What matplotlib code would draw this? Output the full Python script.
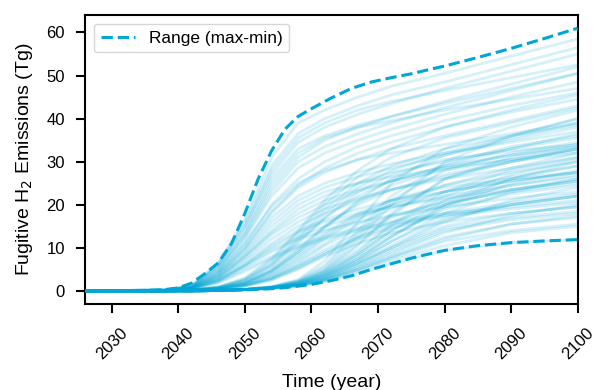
import matplotlib
matplotlib.use("Agg")
import matplotlib.pyplot as plt

plt.rcParams['font.family'] = ['Liberation Sans', 'DejaVu Sans']

# knot years for each scenario trajectory
years = [2026, 2038, 2042, 2046, 2050, 2054, 2058, 2062, 2067, 2072, 2080, 2090, 2100]

# scenario trajectories (Tg)
early = [
    [0, 0.2, 1.2, 6.5, 16.5, 31, 39, 42, 45, 47.5, 50.5, 54.5, 58.5],
    [0, 0.2, 1.0, 5.5, 14, 26, 33, 36, 38.5, 40.5, 43.5, 47, 50.5],
    [0, 0.2, 0.9, 4.5, 12, 22, 28.5, 32, 35, 37.5, 41, 45, 48.5],
    [0, 0.1, 0.8, 4, 10, 18, 24, 27.5, 30.5, 33, 36, 39.5, 43],
    [0, 0.1, 0.7, 3.5, 9, 16, 21, 24, 26.5, 28.5, 31.5, 35, 38],
    [0, 0.1, 0.6, 3, 8, 14, 19, 22, 25, 27.5, 30, 33, 35.5],
    [0, 0.1, 0.6, 2.8, 7, 12, 16, 19, 21.5, 23.5, 26, 28.5, 31],
    [0, 0.1, 0.5, 2.5, 6, 10.5, 14, 16.5, 19, 21, 23, 25.5, 27.5],
    [0, 0.1, 0.5, 2.2, 5.5, 9, 12, 14, 16, 17.5, 19.5, 21.5, 23],
    [0, 0.1, 0.4, 2, 5, 8, 10.5, 12.5, 14.5, 16, 18, 19.5, 21],
    [0, 0.2, 1.1, 6, 15, 27, 34.5, 38, 41, 43.5, 47, 51, 55],
    [0, 0.2, 1.0, 5, 13, 24, 31, 35, 38, 40.5, 44, 48, 52],
    [0, 0.1, 0.8, 4.2, 11, 20, 26, 30, 33.5, 36, 39.5, 43, 46],
    [0, 0.1, 0.7, 3.6, 9.5, 17, 22, 25, 27.5, 29.5, 32, 34.5, 37],
    [0, 0.1, 0.5, 2.6, 6.5, 11, 15, 18, 21, 23.5, 26.5, 30, 33],
    [0, 0.2, 1.1, 6.2, 16, 29, 36.5, 40, 43, 45.5, 48.5, 52.5, 56.5],
    [0, 0.2, 1.0, 5.8, 15, 28, 35.5, 39, 42, 44, 46.5, 49.5, 52.5],
    [0, 0.2, 1.0, 5.2, 13.5, 25, 32, 35.5, 38, 39.5, 42, 44.5, 47],
    [0, 0.2, 0.9, 4.8, 12.5, 23, 30, 33.5, 36.5, 39, 42.5, 46.5, 50.5],
    [0, 0.1, 0.8, 4.3, 11, 19.5, 25, 28, 30.5, 32, 34, 36.5, 39],
    [0, 0.1, 0.7, 3.8, 10, 18.5, 24.5, 28.5, 32, 34.5, 38, 41.5, 44.5],
    [0, 0.1, 0.7, 3.4, 8.5, 15, 20, 23, 25, 26.5, 28.5, 30.5, 32.5],
    [0, 0.1, 0.6, 3.2, 8, 13.5, 18, 21, 23.5, 25.5, 28, 30.5, 33],
    [0, 0.1, 0.6, 3, 7.5, 13, 17, 20, 23, 25.5, 29, 33, 36.5],
    [0, 0.1, 0.5, 2.4, 6, 10, 13.5, 16, 18, 19.5, 21.5, 23.5, 25.5],
    [0, 0.1, 0.5, 2.3, 5.8, 9.5, 12.5, 15, 17.5, 19.5, 22, 24.5, 26.5],
    [0, 0.1, 0.4, 1.8, 4.5, 7.5, 10, 12, 14, 15.5, 17.5, 19, 20.5],
]
middle = [
    [0, 0, 0.2, 0.8, 2.5, 6, 12, 18, 24, 28, 32, 36, 40],
    [0, 0, 0.2, 0.7, 2, 5, 10, 15, 20, 23.5, 27, 30, 33],
    [0, 0, 0.2, 0.6, 1.8, 4.5, 8.5, 13, 17.5, 21, 24.5, 27.5, 30],
    [0, 0, 0.1, 0.5, 1.5, 3.5, 7, 11, 15.5, 19, 23, 26.5, 29],
    [0, 0, 0.1, 0.5, 1.4, 3, 6, 9.5, 13.5, 17, 21, 24.5, 27],
    [0, 0, 0.1, 0.4, 1.2, 2.8, 5.5, 8.5, 12, 14.5, 17.5, 20, 22],
    [0, 0, 0.2, 0.9, 3, 7.5, 14, 21, 28, 33, 38, 42, 45.5],
    [0, 0, 0.1, 0.6, 1.8, 4.5, 9, 14.5, 21, 26, 31.5, 35.5, 39],
    [0, 0, 0.1, 0.4, 1.1, 2.5, 5, 8, 11, 13.5, 16, 18, 19.5],
    [0, 0, 0.1, 0.5, 1.6, 4, 8, 12.5, 17, 20, 23, 25.5, 27.5],
    [0, 0, 0.2, 0.8, 2.6, 6.5, 12.5, 19, 25, 29, 33, 36, 38.5],
    [0, 0, 0.1, 0.6, 1.9, 4.8, 9.5, 15, 20.5, 24.5, 28.5, 31.5, 34],
    [0, 0, 0.2, 0.9, 2.8, 7, 13.5, 20, 26.5, 31, 35.5, 39, 42.5],
    [0, 0, 0.2, 0.8, 2.4, 6, 11.5, 17, 22, 25.5, 29, 31.5, 33.5],
    [0, 0, 0.1, 0.6, 1.8, 4.5, 9, 13.5, 18, 21, 24, 26, 27.5],
    [0, 0, 0.1, 0.5, 1.5, 3.8, 7.5, 12, 16.5, 20, 24.5, 28.5, 32],
    [0, 0, 0.1, 0.5, 1.3, 3.2, 6.5, 10.5, 14.5, 17.5, 20.5, 23, 25],
    [0, 0, 0.1, 0.4, 1.1, 2.6, 5.2, 8.5, 12.5, 16, 20, 23.5, 26],
    [0, 0, 0.2, 0.7, 2.2, 5.5, 11, 17, 23, 27, 30.5, 32.5, 34],
    [0, 0, 0.1, 0.4, 1.2, 2.9, 5.8, 9, 12.5, 15, 18, 20.5, 22.5],
]
late = [
    [0, 0, 0, 0.1, 0.35, 0.9, 2.2, 5, 12, 20, 30, 36, 40],
    [0, 0, 0, 0.1, 0.35, 0.8, 2, 4.5, 9.5, 15.5, 23, 28, 31],
    [0, 0, 0, 0.1, 0.3, 0.75, 1.8, 4, 8.5, 14, 21, 26, 29],
    [0, 0, 0, 0.1, 0.3, 0.7, 1.6, 3.5, 7, 11.5, 18, 23, 26],
    [0, 0, 0, 0.1, 0.3, 0.7, 1.5, 3.2, 6.5, 10, 16, 21, 24],
    [0, 0, 0, 0.1, 0.3, 0.65, 1.4, 2.8, 5.5, 8.5, 13.5, 17.5, 20],
    [0, 0, 0, 0.1, 0.28, 0.65, 1.3, 2.6, 5, 7.8, 12, 15.5, 17.5],
    [0, 0, 0, 0.1, 0.26, 0.62, 1.2, 2.3, 4.5, 7, 10.5, 13.5, 15],
    [0, 0, 0, 0.1, 0.35, 1, 2.6, 7, 16, 25, 33, 38, 42],
    [0, 0, 0, 0.1, 0.35, 0.9, 2.3, 5.5, 13, 21, 28, 32, 34.5],
    [0, 0, 0, 0.1, 0.3, 0.75, 1.8, 4, 8.5, 14, 20, 23.5, 25.5],
    [0, 0, 0, 0.1, 0.3, 0.65, 1.4, 2.8, 6, 9.5, 14.5, 17, 18.5],
    [0, 0, 0, 0.1, 0.25, 0.6, 1.1, 2.1, 4.0, 6.3, 9.4, 11.2, 11.9],
    [0, 0, 0, 0.1, 0.35, 0.8, 2, 4.5, 10.5, 17.5, 26, 31, 33.5],
    [0, 0, 0, 0.1, 0.3, 0.7, 1.5, 3.4, 7, 11.5, 17, 20, 22],
    [0, 0, 0, 0.1, 0.3, 0.7, 1.6, 3.6, 7.5, 12.5, 19.5, 25, 28],
    [0, 0, 0, 0.1, 0.3, 0.8, 2, 4.8, 11, 18, 26, 30, 32],
    [0, 0, 0, 0.1, 0.3, 0.7, 1.7, 3.8, 8, 13, 19, 22.5, 24.5],
    [0, 0, 0, 0.1, 0.3, 0.7, 1.6, 3.5, 7.5, 12.5, 20, 26, 30],
    [0, 0, 0, 0.1, 0.3, 0.65, 1.4, 3, 6.5, 10.5, 16.5, 20, 22],
    [0, 0, 0, 0.1, 0.28, 0.62, 1.3, 2.6, 5.5, 9, 14, 16.5, 18],
    [0, 0, 0, 0.1, 0.26, 0.62, 1.2, 2.4, 4.8, 7.5, 11.5, 14, 15.5],
    [0, 0, 0, 0.1, 0.35, 0.9, 2.4, 6, 14, 22, 29.5, 33.5, 36],
    [0, 0, 0, 0.1, 0.3, 0.75, 1.9, 4.2, 9, 15, 22, 27, 30.5],
    [0, 0, 0, 0.1, 0.28, 0.65, 1.4, 3, 6.2, 10, 15, 18, 19.5],
    [0, 0, 0, 0.1, 0.27, 0.63, 1.25, 2.5, 5, 8, 12.5, 15.5, 17],
]

# max / min envelope
env_years = [2026, 2035, 2038, 2040, 2042, 2044, 2046, 2048, 2050, 2052, 2054, 2056, 2058,
             2060, 2063, 2066, 2069, 2072, 2075, 2078, 2080, 2085, 2090, 2095, 2100]
env_max = [0, 0.1, 0.3, 0.7, 1.8, 4.0, 6.5, 11.0, 18.0, 26.0, 32.5, 37.5, 40.5,
           42.3, 44.8, 47.0, 48.5, 49.5, 50.4, 51.5, 52.2, 54.2, 56.3, 58.6, 61.0]
env_min = [0, 0, 0, 0, 0, 0.03, 0.1, 0.17, 0.25, 0.35, 0.5, 0.75, 1.1,
           1.5, 2.4, 3.5, 5.0, 6.3, 7.6, 8.7, 9.4, 10.5, 11.2, 11.6, 11.9]

color = '#00a6d6'

fig, ax = plt.subplots(figsize=(5.95, 3.9), dpi=100)
fig.subplots_adjust(left=0.143, right=0.971, top=0.9615, bottom=0.2205)

# individual scenarios, faint
for traj in early + middle + late:
    ax.plot(years, traj, color=color, alpha=0.17, lw=2.0, zorder=1)

ax.plot(env_years, env_max, color=color, lw=2.2, ls='--', label='Range (max-min)', zorder=3)
ax.plot(env_years, env_min, color=color, lw=2.2, ls='--', zorder=3)

ax.set_xlim(2026, 2100)
ax.set_ylim(-3.05, 64.05)
ax.set_xticks([2030, 2040, 2050, 2060, 2070, 2080, 2090, 2100])
ax.set_yticks([0, 10, 20, 30, 40, 50, 60])
ax.tick_params(axis='x', labelrotation=45, pad=9)
ax.tick_params(axis='y', pad=8)
ax.tick_params(labelsize=12, length=6.5, width=1.5)
for s in ax.spines.values():
    s.set_linewidth(1.5)

ax.set_xlabel('Time (year)', fontsize=14, labelpad=8)
ax.set_ylabel('Fugitive H$_2$ Emissions (Tg)', fontsize=14, labelpad=8)
ax.legend(loc='upper left', fontsize=12.4)

plt.savefig('out.png', dpi=100)
